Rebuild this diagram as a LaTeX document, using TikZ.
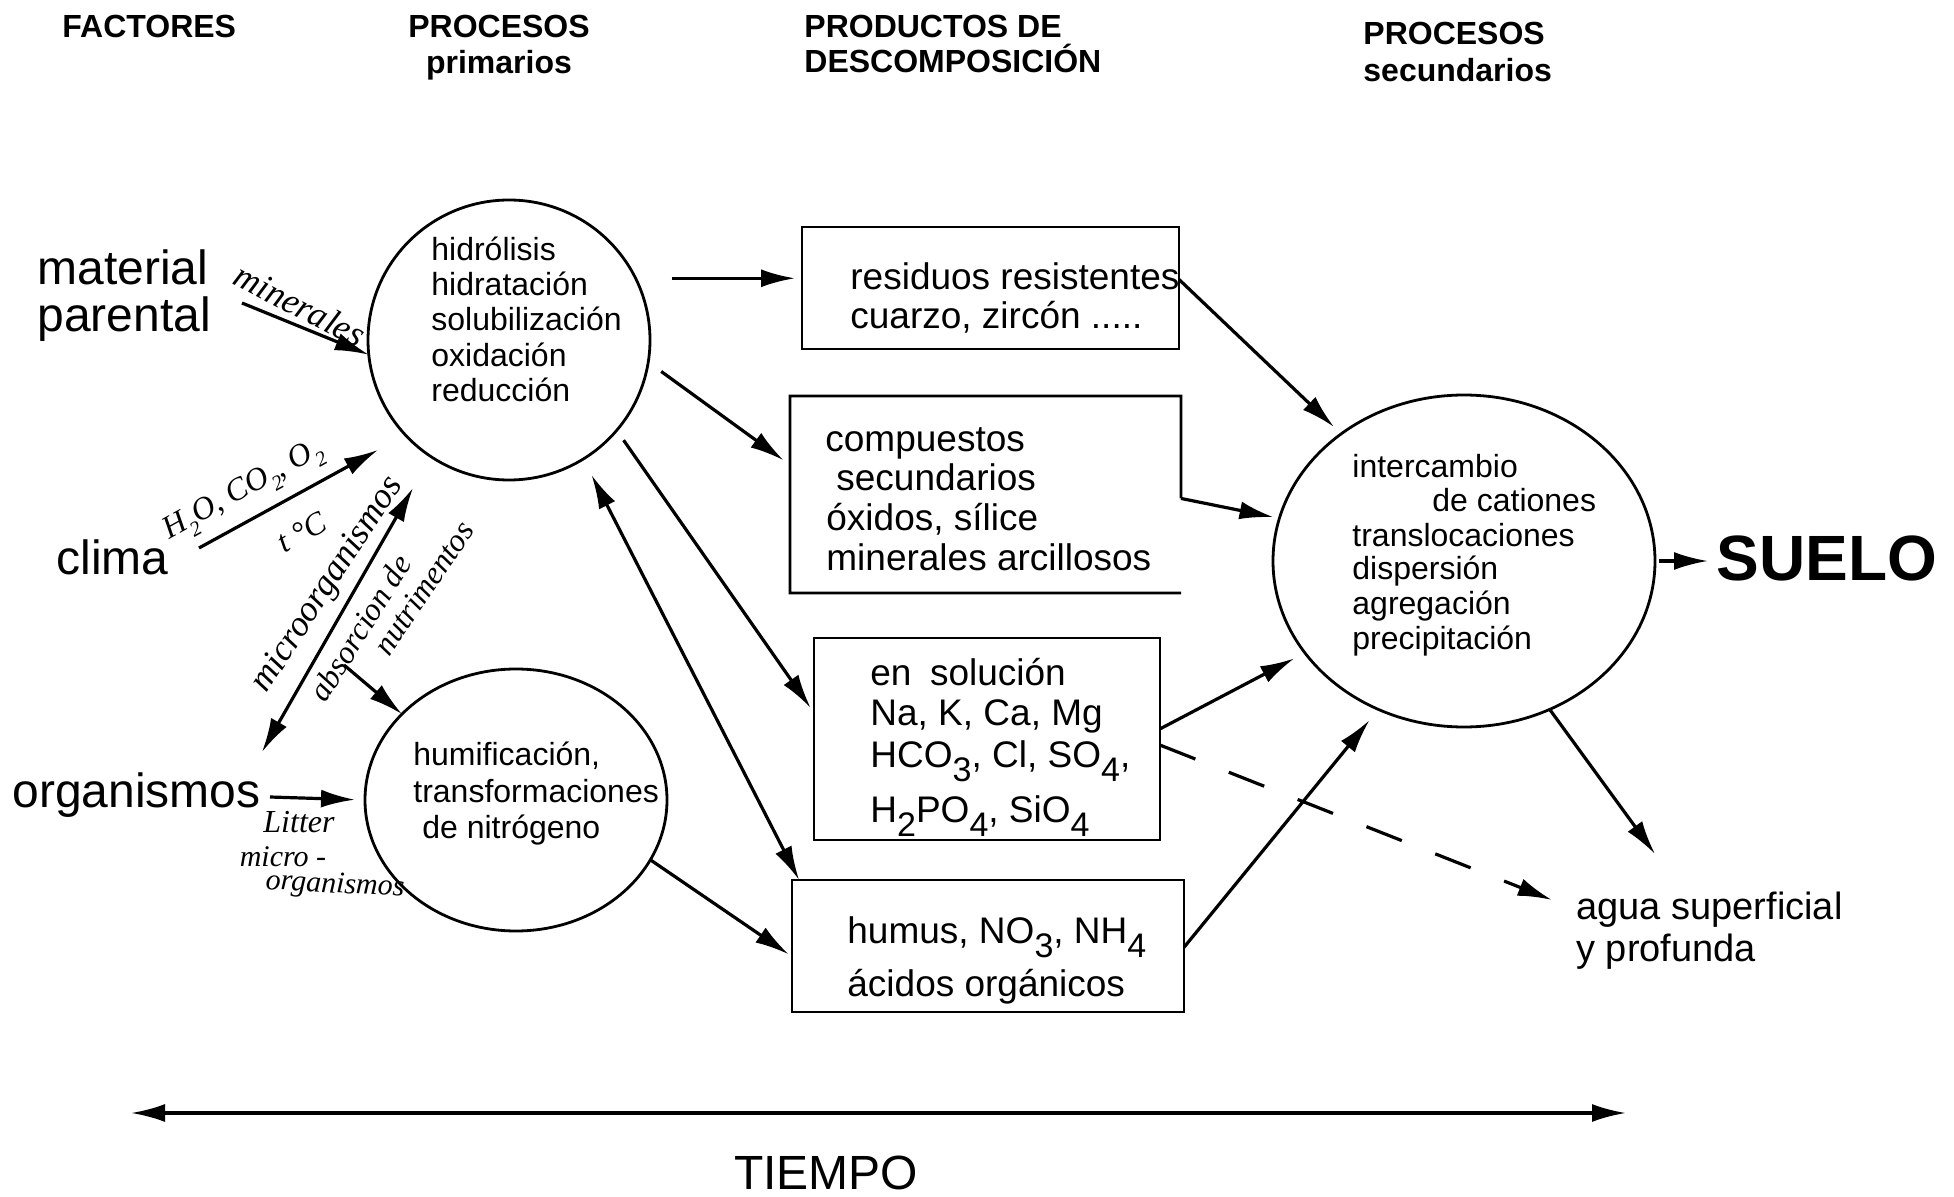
\documentclass[tikz,border=0pt]{standalone}
\usepackage{fontspec}
\setmainfont{Liberation Sans}
\newfontfamily\handfont{Liberation Serif}
\usetikzlibrary{arrows.meta,shapes.geometric,calc}
\newcommand\dn[1]{\raisebox{-0.38em}{\scalebox{0.92}{#1}}}
\newcommand\hdn[1]{\raisebox{-0.3em}{\scalebox{0.65}{#1}}}
\begin{document}
\begin{tikzpicture}[x=0.5pt,y=-0.5pt,
  arr/.style={line width=1.6pt,-{Latex[length=17pt,width=9pt]}},
  darr/.style={line width=1.6pt,{Latex[length=17pt,width=9pt]}-{Latex[length=17pt,width=9pt]}},
  oval/.style={draw,ellipse,line width=1.4pt,inner sep=0pt,outer sep=0pt},
  boxs/.style={draw,rectangle,line width=1.4pt,inner sep=0pt,outer sep=0pt},
  hdr/.style={font=\bfseries\fontsize{16}{19}\selectfont,inner sep=0pt,yshift=-3.5pt},
  fac/.style={font=\fontsize{24}{28}\selectfont,inner sep=0pt,anchor=mid west,yshift=-4.5pt},
  ptxt/.style={font=\fontsize{16}{19}\selectfont,inner sep=0pt,anchor=mid west,yshift=-3pt},
  btxt/.style={font=\fontsize{18.5}{22}\selectfont,inner sep=0pt,anchor=mid west,yshift=-3.5pt},
  hand/.style={font=\handfont\itshape\fontsize{16}{18}\selectfont,inner sep=0pt},
]
\useasboundingbox (0,0) rectangle (1954,1197);

% headers
\node[hdr,anchor=mid west] (hF) at (62,25) {FACTORES};
\node[hdr,anchor=mid] (hP1) at (499,25) {PROCESOS};
\node[hdr,anchor=mid] (hP2) at (499,61) {primarios};
\node[hdr,anchor=mid west] (hD1) at (804,25) {PRODUCTOS DE};
\node[hdr,anchor=mid west] (hD2) at (804,60) {DESCOMPOSICIÓN};
\node[hdr,anchor=mid west] (hS1) at (1363,32) {PROCESOS};
\node[hdr,anchor=mid west] (hS2) at (1363,69) {secundarios};

% factors
\node[fac] (mat1) at (37,270) {material};
\node[fac] (mat2) at (37,317) {parental};
\node[fac] (clima) at (56,560) {clima};
\node[fac] (org) at (12,793) {organismos};

% process ovals
\node[oval,minimum width=141pt,minimum height=140pt] (c1) at (509,340) {};
\node[oval,minimum width=151pt,minimum height=131pt] (c2) at (516,800) {};
\node[oval,minimum width=191pt,minimum height=166pt] (c3) at (1464,561) {};

% product boxes
\node[boxs,minimum width=188.5pt,minimum height=61pt] (b1) at (990.5,288) {};
\node[boxs,draw=none,minimum width=195.5pt,minimum height=98.5pt] (b2) at (985.5,494.5) {};
\draw[line width=1.4pt] ($(b2.north east)!0.52!(b2.south east)$) -- (b2.north east) -- (b2.north west) -- (b2.south west) -- (b2.south east);
\node[boxs,minimum width=173pt,minimum height=101pt] (b3) at (987,739) {};
\node[boxs,minimum width=196pt,minimum height=66pt] (b4) at (988,946) {};

% texts in c1
\node[ptxt] (c1a) at (431,249) {hidrólisis};
\node[ptxt] (c1b) at (431,284) {hidratación};
\node[ptxt] (c1c) at (431,319) {solubilización};
\node[ptxt] (c1d) at (431,355) {oxidación};
\node[ptxt] (c1e) at (431,390) {reducción};
% texts in c2
\node[ptxt] (c2a) at (413,754) {humificación,};
\node[ptxt] (c2b) at (413,791) {transformaciones};
\node[ptxt] (c2c) at (422,827) {de nitrógeno};
% texts in c3
\node[ptxt] (c3a) at (1352,466) {intercambio};
\node[ptxt] (c3b) at (1432,500) {de cationes};
\node[ptxt] (c3c) at (1352,535) {translocaciones};
\node[ptxt] (c3d) at (1352,568) {dispersión};
\node[ptxt] (c3e) at (1352,603) {agregación};
\node[ptxt] (c3f) at (1352,638) {precipitación};

% texts in boxes
\node[btxt] (b1a) at (850,277) {residuos resistentes};
\node[btxt] (b1b) at (850,316) {cuarzo, zircón .....};
\node[btxt] (b2a) at (825,439) {compuestos};
\node[btxt] (b2b) at (836,478) {secundarios};
\node[btxt] (b2c) at (826,518) {óxidos, sílice};
\node[btxt] (b2d) at (826,558) {minerales arcillosos};
\node[btxt] (b3a) at (870,673) {en\hspace{0.5em}solución};
\node[btxt] (b3b) at (870,713) {Na, K, Ca, Mg};
\node[btxt] (b3c) at (870,755) {HCO\dn{3}, Cl, SO\dn{4},};
\node[btxt] (b3d) at (870,810) {H\dn{2}PO\dn{4}, SiO\dn{4}};
\node[btxt] (b4a) at (847,931) {humus, NO\dn{3}, NH\dn{4}};
\node[btxt] (b4b) at (847,984) {ácidos orgánicos};

% results
\node[font=\bfseries\fontsize{32}{36}\selectfont,inner sep=0pt,anchor=mid west,yshift=-7pt] (suelo) at (1716,561) {SUELO};
\node[font=\fontsize{19}{22}\selectfont,inner sep=0pt,anchor=mid west,yshift=-4pt] (agua1) at (1576,906) {agua superficial};
\node[font=\fontsize{19}{22}\selectfont,inner sep=0pt,anchor=mid west,yshift=-4pt] (agua2) at (1576,948) {y profunda};
\node[fac,anchor=mid,yshift=1.5pt] (tiempo) at (826,1178) {TIEMPO};

% free ends
\coordinate (mpS) at (242,303);
\coordinate (clS) at (199,548);
\coordinate (clT) at (378,450);
\coordinate (muA) at (262,752);
\coordinate (muB) at (413,488);
\coordinate (smS) at (344,665);
\coordinate (orgS) at (270,797);
\coordinate (aguaT) at (1655,854);
\coordinate (tL) at (131,1113);
\coordinate (tR) at (1626,1113);

% factor arrows
\draw[arr] (mpS) -- (c1.186);
\draw[arr] (clS) -- (clT);
\draw[darr] (muA) -- (muB);
\draw[arr] (smS) -- (c2.143);
\draw[arr,shorten >=5pt] (orgS) -- (c2.west);

% primary -> products
\draw[arr,shorten <=18pt,shorten >=3.5pt] (c1.26) -- (c1.26 -| b1.west);
\draw[arr,shorten <=8pt,shorten >=4pt] (c1.-9.5) -- ($(b2.north west)!0.35!(b2.south west)$);
\draw[arr,shorten <=6pt,shorten >=3pt] (c1.-40) -- ($(b3.north west)!0.37!(b3.south west)$);
\draw[darr,shorten <=9pt] (c1.-58) -- ($(b4.north west)!0.018!(b4.north east)$);
\draw[arr,shorten >=2pt] (c2.-24) -- ($(b4.north west)!0.58!(b4.south west)$);

% products -> secondary
\draw[arr,shorten >=5pt] ($(b1.north east)!0.43!(b1.south east)$) -- (c3.134);
\draw[arr,shorten >=3pt] ($(b2.north east)!0.52!(b2.south east)$) -- (c3.167);
\draw[arr,shorten >=6pt] ($(b3.north east)!0.45!(b3.south east)$) -- (c3.210);
\draw[arr,shorten >=7pt] ($(b4.north east)!0.51!(b4.south east)$) -- (c3.240);
\draw[arr,dash pattern=on 19pt off 18pt,shorten >=13pt] ($(b3.north east)!0.53!(b3.south east)$) -- (agua1.west);

% secondary -> results
\draw[arr,shorten <=2pt,shorten >=4pt] (c3.east) -- (c3.east -| suelo.west);
\draw[arr] (c3.-60) -- (aguaT);

% time
\draw[darr] (tL) -- (tR);

% handwritten notes
\node[hand,font=\handfont\itshape\fontsize{18}{20}\selectfont,rotate=-27] (nMin) at (300,305) {minerales};
\node[hand,rotate=29] (nGas) at (244,492) {H\hdn{2}O, CO\hdn{2}, O\hdn{2}};
\node[hand,rotate=29] (nT) at (302,532) {t °C};
\node[hand,font=\handfont\itshape\fontsize{18}{20}\selectfont,rotate=57] (nMicro) at (328,585) {microorganismos};
\node[hand,rotate=58] (nAbs) at (360,628) {absorcion de};
\node[hand,rotate=56] (nNut) at (424,588) {nutrimentos};
\node[hand] (nLit) at (299,822) {Litter};
\node[hand,font=\handfont\itshape\fontsize{15}{17}\selectfont] (nMic2) at (283,857) {micro -};
\node[hand,font=\handfont\itshape\fontsize{15}{17}\selectfont,rotate=-3] (nOrg2) at (335,886) {organismos};
\end{tikzpicture}
\end{document}
